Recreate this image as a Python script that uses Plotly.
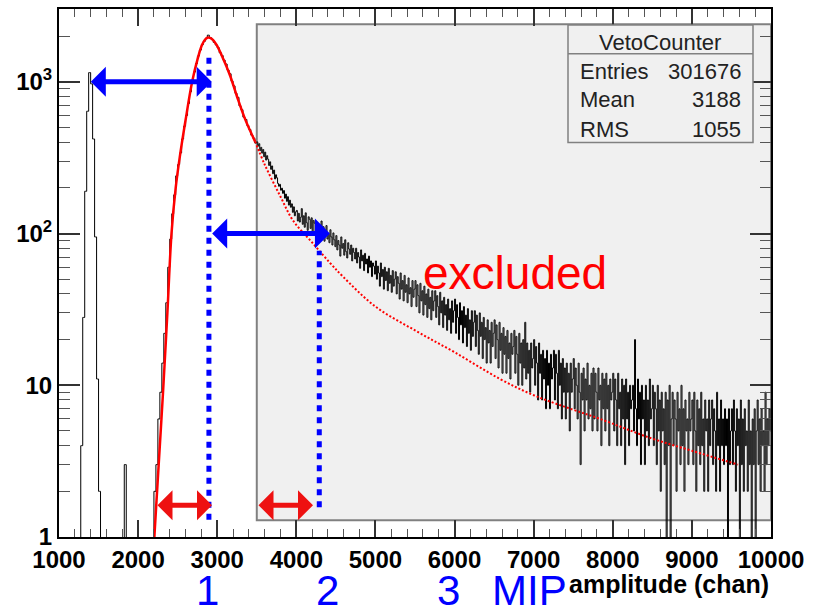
import plotly.graph_objects as go
import numpy as np

# ---------------- data ----------------
# low part: 25-channel bins from 1000 to 3500 (20 bins per row = 500 channels)
LOW_START, LOW_WIDTH = 1000, 25
counts_low = [
    0, 0, 0, 0, 0, 0, 0, 0, 0, 0, 0, 4, 28, 190, 640, 1150, 970, 420, 95, 11,            # 1000-1500
    2, 0, 0, 0, 0, 0, 0, 0, 0, 0, 0, 0, 0, 3, 0, 0, 0, 0, 0, 0,                          # 1500-2000
    0, 0, 0, 0, 0, 0, 0, 0, 2, 3, 6, 9, 14, 22, 35, 60, 92, 135, 180, 240,               # 2000-2500
    285, 340, 420, 510, 600, 720, 860, 1010, 1160, 1320, 1480, 1620, 1760, 1850, 1935, 2030, 1960, 1900, 1820, 1750,  # 2500-3000
    1680, 1555, 1490, 1390, 1310, 1195, 1130, 1010, 940, 840, 790, 695, 655, 585, 565, 515, 485, 445, 425, 395,      # 3000-3500
]
# tail: 12.5-channel bins from 3500 to 10000 (20 bins per row = 250 channels)
TAIL_START, TAIL_WIDTH = 3500, 12.5
counts_tail = [
    402, 377, 391, 352, 370, 339, 358, 321, 344, 305, 326, 309, 281, 297, 265, 279, 248, 262, 229, 244,   # 3500-3750
    233, 214, 205, 211, 193, 199, 184, 192, 171, 182, 163, 175, 154, 166, 149, 157, 138, 150, 131, 139,   # 3750-4000
    142, 121, 136, 119, 128, 146, 115, 131, 110, 137, 118, 105, 129, 124, 108, 127, 101, 122, 117, 99,    # 4000-4250
    119, 97, 114, 108, 93, 121, 100, 111, 89, 104, 113, 92, 99, 87, 106, 95, 84, 101, 91, 82,             # 4250-4500
    97, 78, 90, 84, 71, 95, 80, 86, 72, 91, 76, 69, 87, 79, 73, 84, 66, 80, 75, 68,                       # 4500-4750
    80, 64, 75, 70, 59, 78, 66, 72, 57, 74, 63, 68, 55, 71, 60, 66, 52, 64, 61, 54,                       # 4750-5000
    66, 50, 61, 55, 45, 64, 52, 58, 43, 60, 49, 56, 42, 59, 47, 53, 41, 57, 45, 50,                       # 5000-5250
    56, 40, 52, 47, 37, 55, 43, 49, 36, 53, 41, 46, 35, 51, 40, 44, 33, 49, 38, 43,                       # 5250-5500
    49, 33, 46, 39, 30, 47, 36, 42, 29, 45, 34, 40, 28, 43, 32, 38, 27, 42, 31, 36,                       # 5500-5750
    42, 28, 39, 33, 25, 41, 30, 36, 24, 38, 29, 34, 23, 37, 27, 32, 22, 36, 26, 31,                       # 5750-6000
    37, 22, 34, 28, 20, 35, 25, 31, 19, 33, 24, 29, 18, 32, 22, 27, 17, 31, 21, 26,                       # 6000-6250
    31, 18, 29, 23, 16, 30, 21, 26, 15, 28, 20, 24, 14, 27, 19, 23, 14, 26, 18, 22,                       # 6250-6500
    27, 15, 25, 20, 13, 26, 17, 22, 12, 24, 16, 21, 12, 23, 15, 19, 11, 22, 16, 18,                       # 6500-6750
    23, 12, 21, 16, 10, 22, 14, 19, 10, 20, 13, 26, 11, 19, 12, 17, 9, 19, 13, 15,                        # 6750-7000
    20, 10, 18, 14, 8, 19, 12, 16, 8, 17, 11, 15, 7, 17, 10, 14, 7, 16, 11, 13,                           # 7000-7250
    17, 8, 16, 12, 7, 17, 10, 14, 6, 15, 9, 13, 6, 14, 9, 12, 5, 14, 9, 11,                               # 7250-7500
    15, 7, 13, 10, 6, 14, 9, 3, 12, 8, 13, 5, 11, 8, 14, 6, 10, 7, 12, 5,                                 # 7500-7750
    13, 6, 12, 9, 5, 13, 8, 10, 4, 12, 7, 11, 5, 12, 7, 10, 4, 11, 8, 9,                                  # 7750-8000
    12, 5, 11, 8, 4, 12, 7, 9, 4, 11, 6, 10, 3, 11, 6, 9, 4, 10, 7, 8,                                    # 8000-8250
    10, 5, 20, 7, 4, 11, 6, 9, 3, 10, 6, 8, 3, 10, 5, 8, 4, 11, 6, 7,                                     # 8250-8500
    10, 4, 9, 7, 3, 10, 5, 8, 2, 9, 5, 7, 3, 9, 0, 8, 4, 10, 0, 6,                                        # 8500-8750
    9, 4, 8, 6, 2, 9, 5, 7, 3, 10, 4, 7, 2, 8, 5, 6, 3, 9, 5, 6,                                          # 8750-9000
    8, 3, 9, 5, 2, 8, 4, 7, 3, 9, 4, 6, 2, 8, 5, 6, 2, 8, 4, 6,                                           # 9000-9250
    8, 3, 7, 5, 2, 9, 4, 6, 2, 8, 4, 6, 3, 7, 4, 6, 0, 7, 3, 5,                                           # 9250-9500
    7, 3, 8, 5, 2, 7, 4, 6, 0, 8, 3, 6, 2, 7, 4, 5, 2, 8, 3, 5,                                           # 9500-9750
    0, 6, 3, 7, 0, 5, 8, 3, 6, 2, 7, 4, 5, 2, 9, 3, 6, 4, 7, 5,                                           # 9750-10000
]

# fit curve (solid, inside fit range) and its extension (dotted)
fit_x = [2200, 2260, 2315, 2370, 2422, 2475, 2527, 2600, 2683, 2750, 2810, 2860, 2890, 2930, 2990, 3060, 3162, 3250, 3351, 3478]
fit_y = [0.9, 3, 9, 30, 100, 200, 320, 560, 1000, 1400, 1760, 1930, 1960, 1920, 1760, 1480, 1100, 800, 570, 405]
ext_x = [3478, 3600, 3800, 3958, 4211, 4426, 4590, 5000, 5500, 6000, 6575, 7000, 7500, 7840, 8472, 9000, 9584]
ext_y = [405, 285, 175, 122, 86, 64, 52, 33, 23, 16.5, 11, 8.6, 6.9, 6.0, 4.5, 3.7, 3.0]

# annotation positions (data units)
mip1_x, mip2_x = 2895, 4290
mip1_line_y = [1.3, 1520]
mip2_line_y = [1.57, 77]
blue_arrows = [  # (x_left, x_right, y)
    (1383, 2930, 1000),
    (2917, 4425, 100),
]
red_arrows = [
    (2226, 2934, 1.62),
    (3503, 4211, 1.62),
]
excluded_x0 = 3500
excluded_y = [1.29, 2400]

x_ticks = [1000, 2000, 3000, 4000, 5000, 6000, 7000, 8000, 9000, 10000]
x_ticktext = ["1000", "2000", "3000", "4000", "5000", "6000", "7000", "8000", "9000", "10000"]
y_ticks = [1, 10, 100, 1000]
y_ticktext = ["1", "10", "10<sup>2</sup>", "10<sup>3</sup>"]
stats_rows = [("Entries", "301676"), ("Mean", "3188"), ("RMS", "1055")]
mip_labels = ["1", "2", "3"]

# ---------------- figure ----------------
centers = [LOW_START + LOW_WIDTH * (i + 0.5) for i in range(len(counts_low))] + \
          [TAIL_START + TAIL_WIDTH * (i + 0.5) for i in range(len(counts_tail))]
yplot = [c if c > 0 else 0.01 for c in counts_low + counts_tail]

FONT = "Liberation Sans, Arial, Helvetica, sans-serif"
fig = go.Figure()

fig.add_trace(go.Scatter(x=centers, y=yplot, mode="lines", line=dict(color="black", width=1, shape="hvh"),
                         hoverinfo="skip", showlegend=False))
fig.add_trace(go.Scatter(x=fit_x, y=fit_y, mode="lines", line=dict(color="#ff0000", width=2.5, shape="spline"),
                         showlegend=False))
fig.add_trace(go.Scatter(x=ext_x, y=ext_y, mode="lines",
                         line=dict(color="#ff0000", width=2, shape="spline", dash="2px,2px"), showlegend=False))
# blue dotted MIP lines
fig.add_trace(go.Scatter(x=[mip1_x, mip1_x], y=mip1_line_y, mode="lines",
                         line=dict(color="#0000ff", width=5, dash="6px,6px"), showlegend=False))
fig.add_trace(go.Scatter(x=[mip2_x, mip2_x], y=mip2_line_y, mode="lines",
                         line=dict(color="#0000ff", width=5, dash="6px,6px"), showlegend=False))

shapes = [
    dict(type="rect", xref="x", yref="y", x0=excluded_x0, x1=10000, y0=excluded_y[0], y1=excluded_y[1],
         fillcolor="#f0f0f0", line=dict(color="#808080", width=2), layer="below"),
]

L, R, T, B = 59, 50, 7, 77
PW, PH = 821 - L - R, 614 - T - B
def px(xp):
    return (xp - L) / PW
def py(yp):
    return (T + PH - yp) / PH

# stats box
shapes.append(dict(type="rect", xref="paper", yref="paper", x0=px(568), x1=px(753), y0=py(141), y1=py(23),
                   fillcolor="#f0f0f0", line=dict(color="#808080", width=1.5), layer="above"))
shapes.append(dict(type="line", xref="paper", yref="paper", x0=px(568), x1=px(753), y0=py(52), y1=py(52),
                   line=dict(color="#808080", width=1.5), layer="above"))

annotations = []
annotations.append(dict(xref="paper", yref="paper", x=px(660), y=py(41), text="VetoCounter", showarrow=False,
                        font=dict(family=FONT, size=22, color="#222"), xanchor="center", yanchor="middle"))
for (lab, val), yp in zip(stats_rows, [70, 98, 128]):
    annotations.append(dict(xref="paper", yref="paper", x=px(578), y=py(yp), text=lab, showarrow=False,
                            font=dict(family=FONT, size=22, color="#222"), xanchor="left", yanchor="middle"))
    annotations.append(dict(xref="paper", yref="paper", x=px(743), y=py(yp), text=val, showarrow=False,
                            font=dict(family=FONT, size=22, color="#222"), xanchor="right", yanchor="middle"))

annotations.append(dict(xref="paper", yref="paper", x=px(515), y=py(272), text="excluded", showarrow=False,
                        font=dict(family=FONT, size=46, color="#ff0000"), xanchor="center", yanchor="middle"))

for lab, xp in zip(mip_labels, [207, 327, 448]):
    annotations.append(dict(xref="paper", yref="paper", x=px(xp), y=py(591), text=lab, showarrow=False,
                            font=dict(family=FONT, size=42, color="#0000ff"), xanchor="center", yanchor="middle"))
annotations.append(dict(xref="paper", yref="paper", x=px(490), y=py(591), text="MIP", showarrow=False,
                        font=dict(family=FONT, size=42, color="#0000ff"), xanchor="left", yanchor="middle"))
annotations.append(dict(xref="paper", yref="paper", x=1.0, y=py(584), text="amplitude (chan)", showarrow=False,
                        font=dict(family=FONT, size=25, color="black", weight="bold"),
                        xanchor="right", yanchor="middle"))

for (x0, x1, yv), col in [(a, "#0000ff") for a in blue_arrows] + [(a, "#ee1111") for a in red_arrows]:
    annotations.append(dict(xref="x", yref="y", axref="x", ayref="y", x=x1, y=np.log10(yv), ax=x0, ay=np.log10(yv),
                            text="", showarrow=True, arrowhead=1, startarrowhead=1, arrowside="end+start",
                            arrowsize=1, startarrowsize=1, arrowwidth=5, arrowcolor=col, standoff=0, startstandoff=0))

minor_y = [m * 10 ** d for d in range(0, 4) for m in range(2, 10)]

fig.update_layout(
    width=821, height=614,
    margin=dict(l=L, r=R, t=T, b=B),
    paper_bgcolor="white", plot_bgcolor="white",
    shapes=shapes, annotations=annotations,
    xaxis=dict(range=[1000, 10000], tickvals=x_ticks, ticktext=x_ticktext, ticks="inside", ticklen=17, tickwidth=1.5,
               tickcolor="#333", showline=True, linecolor="black", linewidth=2, mirror="ticks",
               showgrid=False, zeroline=False,
               tickfont=dict(family=FONT, size=24, color="black", weight="bold"),
               minor=dict(dtick=200, ticks="inside", ticklen=8, tickwidth=1, tickcolor="#555")),
    yaxis=dict(type="log", range=[0, 3.48], tickvals=y_ticks, ticktext=y_ticktext, ticks="inside", ticklen=21,
               tickwidth=1.5, tickcolor="#333", showline=True, linecolor="black", linewidth=2, mirror="ticks",
               showgrid=False, zeroline=False,
               tickfont=dict(family=FONT, size=24, color="black", weight="bold"),
               minor=dict(tickvals=minor_y, ticks="inside", ticklen=11, tickwidth=1, tickcolor="#555")),
    showlegend=False,
)

fig.write_html("out.html")
